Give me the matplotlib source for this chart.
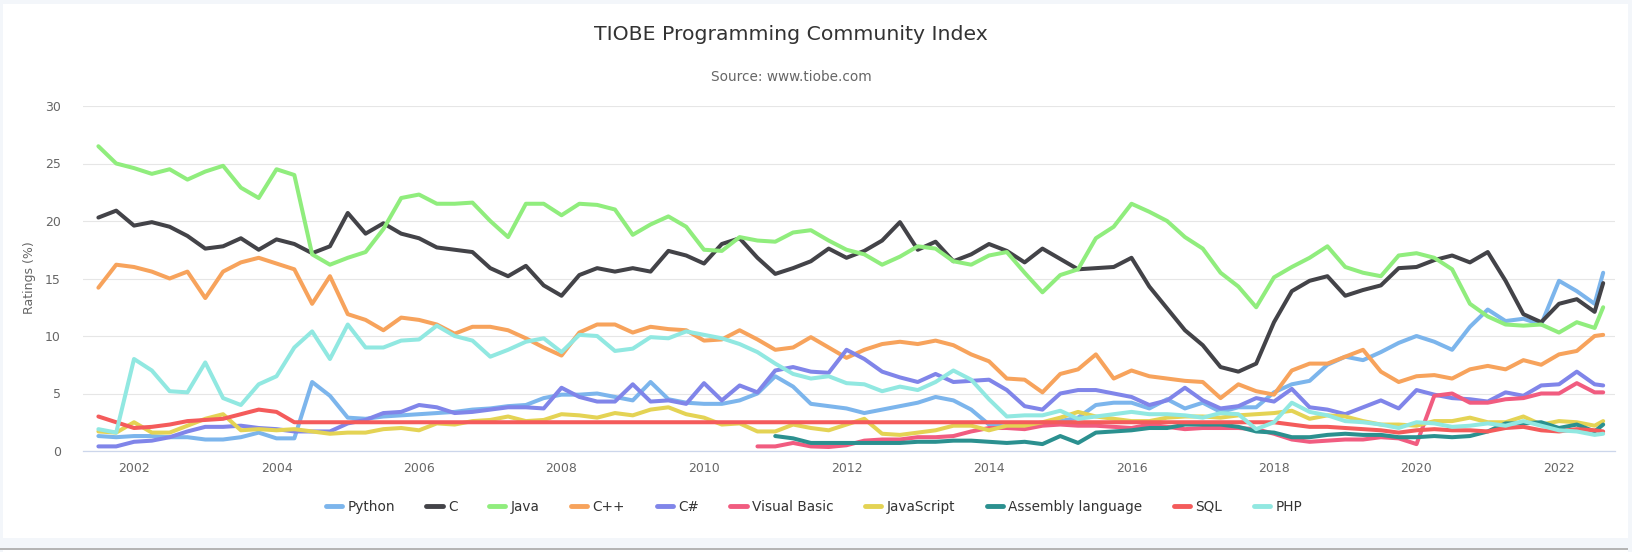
import matplotlib
matplotlib.use("Agg")
import matplotlib.pyplot as plt
from matplotlib.lines import Line2D
from matplotlib.patches import Rectangle

# quarterly samples, Jun 2001 .. Jul 2022, plus Aug 2022
years = [2001.5 + 0.25 * i for i in range(85)] + [2022.62]

python = [
    1.3, 1.2,
    1.3, 1.3, 1.2, 1.2,
    1.0, 1.0, 1.2, 1.6,
    1.1, 1.1, 6.0, 4.8,
    2.9, 2.8, 3.0, 3.1,
    3.2, 3.3, 3.4, 3.6,
    3.7, 3.9, 4.0, 4.6,
    4.9, 4.9, 5.0, 4.7,
    4.4, 6.0, 4.5, 4.2,
    4.1, 4.1, 4.4, 5.0,
    6.5, 5.6, 4.1, 3.9,
    3.7, 3.3, 3.6, 3.9,
    4.2, 4.7, 4.4, 3.6,
    2.3, 2.1, 2.3, 2.3,
    2.6, 2.9, 4.0, 4.2,
    4.2, 3.7, 4.5, 3.7,
    4.2, 3.4, 3.8, 3.8,
    5.1, 5.8, 6.1, 7.5,
    8.2, 7.9, 8.6, 9.4,
    10.0, 9.5, 8.8, 10.8,
    12.3, 11.3, 11.5, 11.0,
    14.8, 13.9, 12.8, 15.5,
]

c_lang = [
    20.3, 20.9,
    19.6, 19.9, 19.5, 18.7,
    17.6, 17.8, 18.5, 17.5,
    18.4, 18.0, 17.2, 17.8,
    20.7, 18.9, 19.8, 18.9,
    18.5, 17.7, 17.5, 17.3,
    15.9, 15.2, 16.1, 14.4,
    13.5, 15.3, 15.9, 15.6,
    15.9, 15.6, 17.4, 17.0,
    16.3, 18.0, 18.5, 16.8,
    15.4, 15.9, 16.5, 17.6,
    16.8, 17.4, 18.3, 19.9,
    17.5, 18.2, 16.5, 17.1,
    18.0, 17.4, 16.4, 17.6,
    16.7, 15.8, 15.9, 16.0,
    16.8, 14.3, 12.4, 10.5,
    9.2, 7.3, 6.9, 7.6,
    11.2, 13.9, 14.8, 15.2,
    13.5, 14.0, 14.4, 15.9,
    16.0, 16.6, 17.0, 16.4,
    17.3, 14.8, 11.9, 11.2,
    12.8, 13.2, 12.1, 14.6,
]

java = [
    26.5, 25.0,
    24.6, 24.1, 24.5, 23.6,
    24.3, 24.8, 22.9, 22.0,
    24.5, 24.0, 17.1, 16.2,
    16.8, 17.3, 19.3, 22.0,
    22.3, 21.5, 21.5, 21.6,
    20.0, 18.6, 21.5, 21.5,
    20.5, 21.5, 21.4, 21.0,
    18.8, 19.7, 20.4, 19.5,
    17.5, 17.4, 18.6, 18.3,
    18.2, 19.0, 19.2, 18.3,
    17.5, 17.1, 16.2, 16.9,
    17.8, 17.6, 16.5, 16.2,
    17.0, 17.3, 15.5, 13.8,
    15.3, 15.8, 18.5, 19.5,
    21.5, 20.8, 20.0, 18.6,
    17.6, 15.5, 14.3, 12.5,
    15.1, 16.0, 16.8, 17.8,
    16.0, 15.5, 15.2, 17.0,
    17.2, 16.8, 15.8, 12.8,
    11.7, 11.0, 10.9, 11.0,
    10.3, 11.2, 10.7, 12.5,
]

cpp = [
    14.2, 16.2,
    16.0, 15.6, 15.0, 15.6,
    13.3, 15.6, 16.4, 16.8,
    16.3, 15.8, 12.8, 15.2,
    11.9, 11.4, 10.5, 11.6,
    11.4, 11.0, 10.2, 10.8,
    10.8, 10.5, 9.8, 9.0,
    8.3, 10.3, 11.0, 11.0,
    10.3, 10.8, 10.6, 10.5,
    9.6, 9.7, 10.5, 9.7,
    8.8, 9.0, 9.9, 9.0,
    8.1, 8.8, 9.3, 9.5,
    9.3, 9.6, 9.2, 8.4,
    7.8, 6.3, 6.2, 5.1,
    6.7, 7.1, 8.4, 6.3,
    7.0, 6.5, 6.3, 6.1,
    6.0, 4.6, 5.8, 5.2,
    4.9, 7.0, 7.6, 7.6,
    8.2, 8.8, 6.9, 6.0,
    6.5, 6.6, 6.3, 7.1,
    7.4, 7.1, 7.9, 7.5,
    8.4, 8.7, 10.0, 10.1,
]

csharp = [
    0.4, 0.4,
    0.8, 0.9, 1.2, 1.7,
    2.1, 2.1, 2.2, 2.0,
    1.9, 1.7, 1.7, 1.7,
    2.4, 2.7, 3.3, 3.4,
    4.0, 3.8, 3.3, 3.4,
    3.6, 3.8, 3.8, 3.7,
    5.5, 4.7, 4.3, 4.3,
    5.8, 4.3, 4.4, 4.1,
    5.9, 4.4, 5.7, 5.1,
    7.0, 7.3, 6.9, 6.8,
    8.8, 8.0, 6.9, 6.4,
    6.0, 6.7, 6.0, 6.1,
    6.2, 5.3, 3.9, 3.6,
    5.0, 5.3, 5.3, 5.0,
    4.7, 4.0, 4.4, 5.5,
    4.4, 3.7, 3.9, 4.6,
    4.3, 5.4, 3.8, 3.6,
    3.2, 3.8, 4.4, 3.7,
    5.3, 4.9, 4.6, 4.5,
    4.3, 5.1, 4.8, 5.7,
    5.8, 6.9, 5.8, 5.7,
]

# Visual Basic starts Oct 2010
visual_basic = [
    0.4,
    0.4, 0.7, 0.4, 0.35,
    0.5, 0.9, 1.0, 1.0,
    1.2, 1.2, 1.3, 1.7,
    2.0, 2.0, 1.9, 2.2,
    2.3, 2.2, 2.2, 2.1,
    2.0, 2.3, 2.1, 1.9,
    2.0, 2.0, 2.0, 1.9,
    1.5, 1.0, 0.8, 0.9,
    1.0, 1.0, 1.2, 1.1,
    0.6, 4.8, 5.0, 4.2,
    4.2, 4.5, 4.6, 5.0,
    5.0, 5.9, 5.1, 5.1,
]

javascript = [
    1.7, 1.6,
    2.5, 1.6, 1.6, 2.2,
    2.8, 3.2, 1.8, 1.9,
    1.8, 1.9, 1.7, 1.5,
    1.6, 1.6, 1.9, 2.0,
    1.8, 2.4, 2.3, 2.6,
    2.7, 3.0, 2.6, 2.7,
    3.2, 3.1, 2.9, 3.3,
    3.1, 3.6, 3.8, 3.2,
    2.9, 2.3, 2.4, 1.7,
    1.7, 2.3, 2.0, 1.8,
    2.3, 2.8, 1.5, 1.4,
    1.6, 1.8, 2.2, 2.2,
    1.8, 2.2, 2.2, 2.5,
    2.9, 3.4, 3.0, 2.8,
    2.6, 2.6, 2.9, 3.0,
    3.0, 2.9, 3.1, 3.2,
    3.3, 3.5, 2.8, 3.1,
    3.0, 2.6, 2.3, 2.3,
    2.2, 2.6, 2.6, 2.9,
    2.5, 2.5, 3.0, 2.3,
    2.6, 2.5, 2.2, 2.6,
]

# Assembly starts Jan 2011
assembly = [
    1.3, 1.1, 0.7, 0.7,
    0.7, 0.7, 0.7, 0.7,
    0.8, 0.8, 0.9, 0.9,
    0.8, 0.7, 0.8, 0.6,
    1.3, 0.7, 1.6, 1.7,
    1.8, 2.0, 2.0, 2.3,
    2.3, 2.3, 2.1, 1.7,
    1.6, 1.2, 1.2, 1.4,
    1.5, 1.4, 1.4, 1.2,
    1.2, 1.3, 1.2, 1.3,
    1.7, 2.4, 2.4, 2.5,
    2.0, 2.3, 1.7, 2.3,
]

# SQL has no values between Apr 2004 and Jan 2018 (line is drawn straight across)
sql_early = [3.0, 2.5, 2.0, 2.1, 2.3, 2.6, 2.7, 2.8, 3.2, 3.6, 3.4, 2.5]
sql_late = [
    2.5, 2.3, 2.1, 2.1,
    2.0, 1.9, 1.8, 1.6,
    1.8, 1.9, 1.8, 1.8,
    1.7, 2.0, 2.1, 1.8,
    1.7, 1.9, 1.8, 1.7,
]

php = [
    1.9, 1.6,
    8.0, 7.0, 5.2, 5.1,
    7.7, 4.6, 4.0, 5.8,
    6.5, 9.0, 10.4, 8.0,
    11.0, 9.0, 9.0, 9.6,
    9.7, 10.9, 10.0, 9.6,
    8.2, 8.8, 9.5, 9.8,
    8.6, 10.1, 10.0, 8.7,
    8.9, 9.9, 9.8, 10.4,
    10.1, 9.8, 9.3, 8.6,
    7.6, 6.7, 6.3, 6.5,
    5.9, 5.8, 5.2, 5.6,
    5.3, 6.0, 7.0, 6.2,
    4.5, 3.0, 3.1, 3.1,
    3.5, 2.8, 3.0, 3.2,
    3.4, 3.2, 3.2, 3.1,
    2.9, 3.3, 3.2, 1.9,
    2.5, 4.2, 3.4, 3.1,
    2.6, 2.5, 2.3, 2.0,
    2.5, 2.4, 2.1, 2.2,
    2.4, 2.2, 2.6, 2.2,
    1.8, 1.7, 1.4, 1.5,
]

series = [
    ("Python", years, python, "#7cb5ec"),
    ("C", years, c_lang, "#434348"),
    ("Java", years, java, "#90ed7d"),
    ("C++", years, cpp, "#f7a35c"),
    ("C#", years, csharp, "#8085e9"),
    ("Visual Basic", years[-len(visual_basic):], visual_basic, "#f15c80"),
    ("JavaScript", years, javascript, "#e4d354"),
    ("Assembly language", years[-len(assembly):], assembly, "#2b908f"),
    ("SQL", years[:len(sql_early)] + years[-len(sql_late):], sql_early + sql_late, "#f45b5b"),
    ("PHP", years, php, "#91e8e1"),
]

W, H = 1632, 552
fig = plt.figure(figsize=(W / 100, H / 100), dpi=100)
fig.patch.set_facecolor("white")

# light page frame around the chart
frame = "#f3f6fa"
for x0, y0, w, h in [(0, 0, 3, H), (0, H - 4, W, 4), (1628, 0, 4, H), (0, 4, W, 10)]:
    fig.add_artist(Rectangle((x0 / W, y0 / H), w / W, h / H, transform=fig.transFigure,
                             facecolor=frame, edgecolor="none"))
fig.add_artist(Rectangle((0, 2 / H), 1628 / W, 2 / H, transform=fig.transFigure,
                         facecolor="#b5b5b5", edgecolor="none"))

ax = fig.add_axes([83 / W, 101 / H, 1532 / W, 345 / H])
handles = []
for name, xs, ys, color in series:
    ax.plot(xs, ys, color=color, lw=2.9, solid_joinstyle="round", solid_capstyle="round")
    handles.append(Line2D([], [], color=color, lw=3.5, solid_capstyle="round"))

ax.set_xlim(2001.284, 2022.786)
ax.set_ylim(0, 30)
ax.set_xticks(range(2002, 2023, 2))
ax.set_yticks(range(0, 31, 5))
ax.grid(axis="y", color="#e6e6e6", lw=0.8)
ax.set_axisbelow(True)
for side in ["top", "right", "left"]:
    ax.spines[side].set_visible(False)
ax.spines["bottom"].set_color("#ccd6eb")
ax.spines["bottom"].set_linewidth(0.9)
ax.tick_params(axis="both", length=0, colors="#666666", labelsize=9)
ax.tick_params(axis="x", pad=8)
ax.tick_params(axis="y", pad=16)

fig.text(791 / W, 1 - 35 / H, "TIOBE Programming Community Index", ha="center", va="center",
         fontsize=14.7, color="#333333")
fig.text(791 / W, 1 - 77 / H, "Source: www.tiobe.com", ha="center", va="center",
         fontsize=9.8, color="#666666")
fig.text(30 / W, 1 - 278 / H, "Ratings (%)", ha="center", va="center", rotation=90,
         fontsize=9, color="#666666")

fig.legend(handles, [s[0] for s in series], loc="center", bbox_to_anchor=(814 / W, 1 - 507 / H),
           ncol=10, frameon=False, fontsize=9.8, handlelength=1.2, handletextpad=0.4,
           columnspacing=2.3, labelcolor="#333333")

fig.savefig("out.png", dpi=100)
